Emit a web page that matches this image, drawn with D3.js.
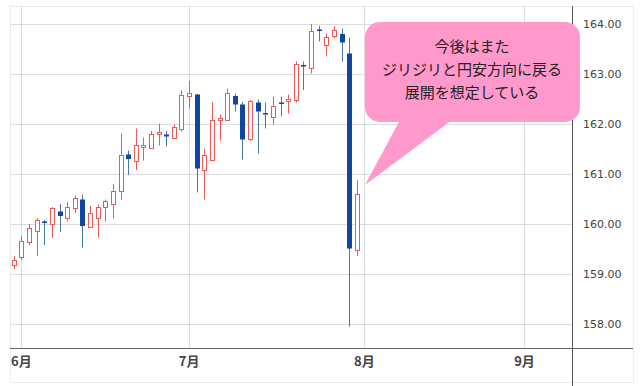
<!DOCTYPE html>
<html>
<head>
<meta charset="utf-8">
<script src="https://cdn.jsdelivr.net/npm/d3@7"></script>
<style>
	body { margin: 0; background: #fff; }
	svg { display: block; }
</style>
</head>
<body>
<div id="chart"></div>
<script>
// daily candles
var open  = [159.19, 159.34, 159.64, 159.86, 160.05, 160.00, 160.25, 160.13, 160.33, 160.49,
	159.93, 160.13, 160.33, 160.41, 160.66, 161.39, 161.27, 161.55, 161.53, 161.79,
	161.79, 161.73, 161.90, 162.56, 162.59, 161.08, 161.29, 162.09, 162.09, 162.56,
	162.39, 161.71, 162.43, 162.22, 162.15, 162.43, 162.46, 162.48, 163.18, 163.13,
	163.89, 163.58, 163.75, 163.80, 163.41, 159.48];
var high  = [159.36, 159.76, 160.00, 160.12, 160.08, 160.34, 160.40, 160.44, 160.57, 160.59,
	160.36, 160.39, 160.49, 160.80, 161.81, 161.47, 161.91, 161.73, 161.86, 162.01,
	161.86, 161.99, 162.67, 162.86, 162.60, 161.51, 162.43, 162.19, 162.71, 162.61,
	162.44, 162.48, 162.49, 162.43, 162.55, 162.55, 162.59, 163.25, 163.25, 164.00,
	163.96, 163.81, 163.95, 163.91, 163.73, 160.88];
var low   = [159.10, 159.28, 159.58, 159.36, 159.58, 159.72, 159.84, 160.05, 160.22, 159.53,
	159.92, 159.73, 160.05, 160.11, 160.48, 160.98, 161.08, 161.27, 161.52, 161.57,
	161.55, 161.71, 161.85, 162.31, 160.63, 160.49, 161.28, 161.67, 162.08, 162.25,
	161.29, 161.66, 161.41, 161.91, 161.99, 162.15, 162.21, 162.43, 162.68, 163.01,
	163.65, 163.35, 163.71, 163.25, 157.95, 159.36];
var close = [159.28, 159.66, 159.92, 160.08, 160.02, 160.31, 160.16, 160.35, 160.53, 159.96,
	160.21, 160.35, 160.46, 160.67, 161.39, 161.30, 161.58, 161.58, 161.81, 161.83,
	161.75, 161.95, 162.59, 162.61, 161.11, 161.38, 162.09, 162.13, 162.63, 162.39,
	161.69, 162.47, 162.25, 162.19, 162.36, 162.41, 162.50, 163.20, 163.16, 163.87,
	163.87, 163.75, 163.88, 163.63, 159.51, 160.60];

// month labels and the candle slot where each month starts
var monthLabels = ["6月", "7月", "8月", "9月"];
var monthSlots  = [1, 23, 46, 67];

var priceTicks = [158, 159, 160, 161, 162, 163, 164];

var noteLines = ["今後はまた", "ジリジリと円安方向に戻る", "展開を想定している"];

var width = 640,
	height = 386;

// note: "top" is taken by window.top, so plot edges get their own names
var plotL = 10, plotT = 6, axisX = 572.5, axisY = 348.5, frameR = 633, frameB = 382;

var upColor = "#ec5a55",
	downColor = "#0d47a1",
	downWick = "#4a76ad";

var x = d3.scaleLinear()
	.domain([-0.5, 73.3])
	.range([plotL, axisX]);

var y = d3.scaleLinear()
	.domain([157.51, 164.36])
	.range([axisY, plotT]);

var svg = d3.select("#chart").append("svg")
	.attr("width", width)
	.attr("height", height);

// outer frame
svg.append("rect")
	.attr("x", plotL + 0.5)
	.attr("y", plotT + 0.5)
	.attr("width", frameR - plotL)
	.attr("height", frameB - plotT)
	.attr("fill", "none")
	.attr("stroke", "#ececec");

// grid
svg.append("g")
	.selectAll("line")
	.data(priceTicks)
	.enter().append("line")
	.attr("x1", plotL)
	.attr("x2", axisX)
	.attr("y1", function(d) { return Math.round(y(d)) + 0.5; })
	.attr("y2", function(d) { return Math.round(y(d)) + 0.5; })
	.attr("stroke", "#dcdcdc");

svg.append("g")
	.selectAll("line")
	.data(monthSlots)
	.enter().append("line")
	.attr("x1", function(d) { return Math.round(x(d)) + 0.5; })
	.attr("x2", function(d) { return Math.round(x(d)) + 0.5; })
	.attr("y1", plotT)
	.attr("y2", axisY)
	.attr("stroke", "#dcdcdc");

// axes lines
svg.append("line")
	.attr("x1", plotL).attr("x2", frameR)
	.attr("y1", axisY).attr("y2", axisY)
	.attr("stroke", "#666");
svg.append("line")
	.attr("x1", axisX).attr("x2", axisX)
	.attr("y1", plotT).attr("y2", height)
	.attr("stroke", "#555");

// price labels
svg.append("g")
	.selectAll("text")
	.data(priceTicks)
	.enter().append("text")
	.attr("x", 583)
	.attr("y", function(d) { return y(d); })
	.attr("dy", ".35em")
	.style("font-family", "DejaVu Sans, sans-serif")
	.style("font-size", "11px")
	.style("fill", "#444")
	.text(d3.format(".2f"));

// month labels
svg.append("g")
	.selectAll("text")
	.data(monthSlots)
	.enter().append("text")
	.attr("x", function(d) { return x(d); })
	.attr("y", 361)
	.attr("dy", ".35em")
	.attr("text-anchor", "middle")
	.style("font-family", "Noto Sans CJK JP, sans-serif")
	.style("font-size", "13px")
	.style("font-weight", "bold")
	.style("fill", "#444")
	.text(function(d, i) { return monthLabels[i]; });

// candles
var candles = open.map(function(o, i) {
	return {i: i, o: o, h: high[i], l: low[i], c: close[i]};
});

var g = svg.selectAll(".candle")
	.data(candles)
	.enter().append("g")
	.attr("class", "candle");

g.append("line")
	.attr("x1", function(d) { return Math.round(x(d.i)) + 0.5; })
	.attr("x2", function(d) { return Math.round(x(d.i)) + 0.5; })
	.attr("y1", function(d) { return y(d.h); })
	.attr("y2", function(d) { return y(d.l); })
	.attr("stroke", function(d) { return d.c >= d.o ? upColor : downWick; });

g.each(function(d) {
	var cx = Math.round(x(d.i));
	var yTop = y(Math.max(d.o, d.c)),
		yBot = y(Math.min(d.o, d.c));
	if (d.c >= d.o) {
		d3.select(this).append("rect")
			.attr("x", cx - 1.5)
			.attr("y", Math.round(yTop) + 0.5)
			.attr("width", 4)
			.attr("height", Math.max(1, Math.round(yBot - yTop)))
			.attr("fill", "#fff")
			.attr("stroke", upColor);
	} else {
		d3.select(this).append("rect")
			.attr("x", cx - 2)
			.attr("y", yTop)
			.attr("width", 5)
			.attr("height", Math.max(1.5, yBot - yTop))
			.attr("fill", downColor);
	}
});

// callout
var note = svg.append("g");
note.append("path")
	.attr("d", "M400,120 L365,185 L452,120 Z")
	.attr("fill", "#ff99cc");
note.append("rect")
	.attr("x", 365)
	.attr("y", 22)
	.attr("width", 215)
	.attr("height", 100)
	.attr("rx", 15)
	.attr("fill", "#ff99cc");
note.selectAll("text")
	.data(noteLines)
	.enter().append("text")
	.attr("x", 472)
	.attr("y", function(d, i) { return 47 + i * 23; })
	.attr("dy", ".35em")
	.attr("text-anchor", "middle")
	.style("font-family", "Noto Sans CJK JP, sans-serif")
	.style("font-size", "15px")
	.style("fill", "#222")
	.text(function(d) { return d; });
</script>
</body>
</html>
